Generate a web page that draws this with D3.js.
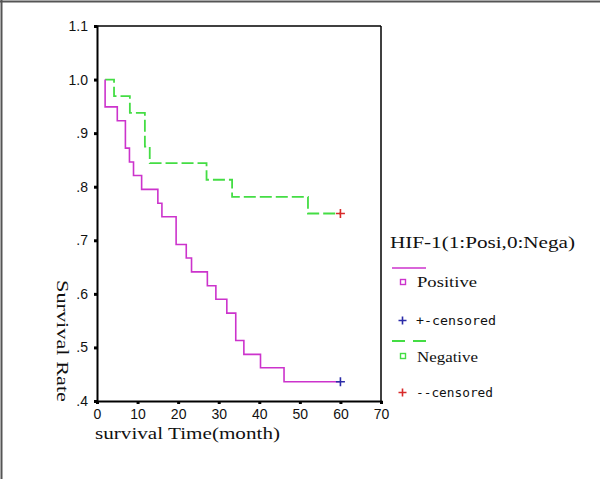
<!DOCTYPE html>
<html><head><meta charset="utf-8">
<script src="https://cdn.jsdelivr.net/npm/d3@7"></script>
<style>
html,body{margin:0;padding:0;background:#fff;}
svg{display:block;}
</style></head>
<body>
<script>
// ---- data ----
const xTicks = [0, 10, 20, 30, 40, 50, 60, 70];
const yTicks = [0.4, 0.5, 0.6, 0.7, 0.8, 0.9, 1.0, 1.1];
const yTickLabels = [".4", ".5", ".6", ".7", ".8", ".9", "1.0", "1.1"];

const posStart = 2;
const posTimes = [2, 5, 7, 8, 9, 11, 15, 16, 19.5, 22, 23.3, 27.2, 29.3, 32, 34.2, 36.2, 40.3, 46.1];
const posSurv  = [0.949, 0.923, 0.872, 0.846, 0.821, 0.795, 0.769, 0.744, 0.692, 0.667, 0.641, 0.615, 0.590, 0.564, 0.513, 0.487, 0.462, 0.436];
const posCensorTime = 60;

const negStart = 2;
const negTimes = [4.2, 8.1, 11.8, 13, 27, 33.3, 52];
const negSurv  = [0.969, 0.938, 0.875, 0.844, 0.813, 0.781, 0.750];
const negCensorTime = 60;

const legendTitle = "HIF-1(1:Posi,0:Nega)";
const legendLabels = ["Positive", "+-censored", "Negative", "--censored"];

const colPos = "#cc33cc", colNeg = "#44dd44", colBlue = "#2b2ba8", colRed = "#d82a2a";

// ---- drawing ----
const W = 600, H = 479;
const svg = d3.select("body").append("svg").attr("width", W).attr("height", H);
svg.append("rect").attr("width", W).attr("height", H).attr("fill", "#fff");

// outer frame (top & left)
svg.append("line").attr("x1", 0).attr("x2", W).attr("y1", 1.5).attr("y2", 1.5).attr("stroke", "#555").attr("stroke-width", 2);
svg.append("line").attr("x1", 1.5).attr("x2", 1.5).attr("y1", 0).attr("y2", H).attr("stroke", "#555").attr("stroke-width", 2);

const x = d3.scaleLinear().domain([0, 70]).range([97, 381]);
const y = d3.scaleLinear().domain([0.4, 1.1]).range([401, 26]);

// plot box (top, right)
svg.append("line").attr("x1", x(0)).attr("x2", x(70)).attr("y1", y(1.1)).attr("y2", y(1.1)).attr("stroke", "#000").attr("stroke-width", 1.5);
svg.append("line").attr("x1", x(70)).attr("x2", x(70)).attr("y1", y(1.1)).attr("y2", y(0.4)).attr("stroke", "#000").attr("stroke-width", 1.5);

// x axis
const xAxis = svg.append("g").attr("transform", `translate(0,${y(0.4)})`)
  .call(d3.axisBottom(x).tickValues(xTicks).tickSize(3).tickPadding(5).tickFormat(d3.format("d")));
xAxis.select(".domain").attr("stroke", "#000").attr("stroke-width", 2);
xAxis.selectAll(".tick line").attr("stroke", "#000").attr("stroke-width", 3);
xAxis.selectAll(".tick text").attr("font-family", "Liberation Sans, Arial, sans-serif").attr("font-size", 14).attr("fill", "#111");

// y axis
const yAxis = svg.append("g").attr("transform", `translate(${x(0)},0)`)
  .call(d3.axisLeft(y).tickValues(yTicks).tickSize(3).tickPadding(6).tickFormat((d, i) => yTickLabels[i]));
yAxis.select(".domain").attr("stroke", "#000").attr("stroke-width", 2);
yAxis.selectAll(".tick line").attr("stroke", "#000").attr("stroke-width", 3);
yAxis.selectAll(".tick text").attr("font-family", "Liberation Sans, Arial, sans-serif").attr("font-size", 14).attr("fill", "#111");

// axis titles
const serif = "'Liberation Serif', 'DejaVu Serif', serif";
svg.append("text").attr("x", 95).attr("y", 439).text("survival Time(month)")
  .attr("font-family", serif).attr("font-size", 17).attr("fill", "#111")
  .attr("textLength", 185).attr("lengthAdjust", "spacingAndGlyphs");
svg.append("text").attr("transform", "translate(57,280) rotate(90)").text("Survival Rate")
  .attr("font-family", serif).attr("font-size", 17).attr("fill", "#111")
  .attr("textLength", 122).attr("lengthAdjust", "spacingAndGlyphs");

// curves
const line = d3.line().x(d => x(d[0])).y(d => y(d[1])).curve(d3.curveStepAfter);
const posPts = [[posStart, 1.0]].concat(posTimes.map((t, i) => [t, posSurv[i]])).concat([[posCensorTime, posSurv[posSurv.length - 1]]]);
const negPts = [[negStart, 1.0]].concat(negTimes.map((t, i) => [t, negSurv[i]])).concat([[negCensorTime, negSurv[negSurv.length - 1]]]);

svg.append("path").attr("d", line(negPts)).attr("fill", "none").attr("stroke", colNeg).attr("stroke-width", 1.8).attr("stroke-dasharray", "12,4");
svg.append("path").attr("d", line(posPts)).attr("fill", "none").attr("stroke", colPos).attr("stroke-width", 1.6);

function plus(cx, cy, col, r) {
  svg.append("path").attr("d", `M${cx - r},${cy}H${cx + r}M${cx},${cy - r}V${cy + r}`).attr("stroke", col).attr("stroke-width", 1.6).attr("fill", "none");
}
plus(x(posCensorTime), y(posSurv[posSurv.length - 1]), colBlue, 4.5);
plus(x(negCensorTime), y(negSurv[negSurv.length - 1]), colRed, 4.5);

// legend
svg.append("text").attr("x", 390).attr("y", 248).text(legendTitle)
  .attr("font-family", serif).attr("font-size", 17).attr("fill", "#111")
  .attr("textLength", 185).attr("lengthAdjust", "spacingAndGlyphs");
svg.append("line").attr("x1", 392).attr("x2", 426).attr("y1", 268).attr("y2", 268).attr("stroke", colPos).attr("stroke-width", 1.6);
svg.append("line").attr("x1", 392).attr("x2", 426).attr("y1", 341).attr("y2", 341).attr("stroke", colNeg).attr("stroke-width", 1.8).attr("stroke-dasharray", "13,8");
svg.append("rect").attr("x", 400.5).attr("y", 279.5).attr("width", 5).attr("height", 5).attr("fill", "none").attr("stroke", colPos).attr("stroke-width", 1.4);
svg.append("rect").attr("x", 400.5).attr("y", 353.5).attr("width", 5).attr("height", 5).attr("fill", "none").attr("stroke", colNeg).attr("stroke-width", 1.4);
plus(402.5, 320.5, colBlue, 4);
plus(402.5, 392.5, colRed, 4);

const legY = [287, 325, 362, 397];
const legW = [60, 80, 61, 77];
const legFont = [serif, "'DejaVu Sans Mono', monospace", serif, "'DejaVu Sans Mono', monospace"];
const legSize = [14, 13, 14, 13];
legendLabels.forEach((t, i) => {
  svg.append("text").attr("x", i % 2 === 0 ? 417 : 416).attr("y", legY[i]).text(t)
    .attr("font-family", legFont[i]).attr("font-size", legSize[i]).attr("fill", "#111")
    .attr("textLength", legW[i]).attr("lengthAdjust", "spacingAndGlyphs");
});
</script>
</body></html>
